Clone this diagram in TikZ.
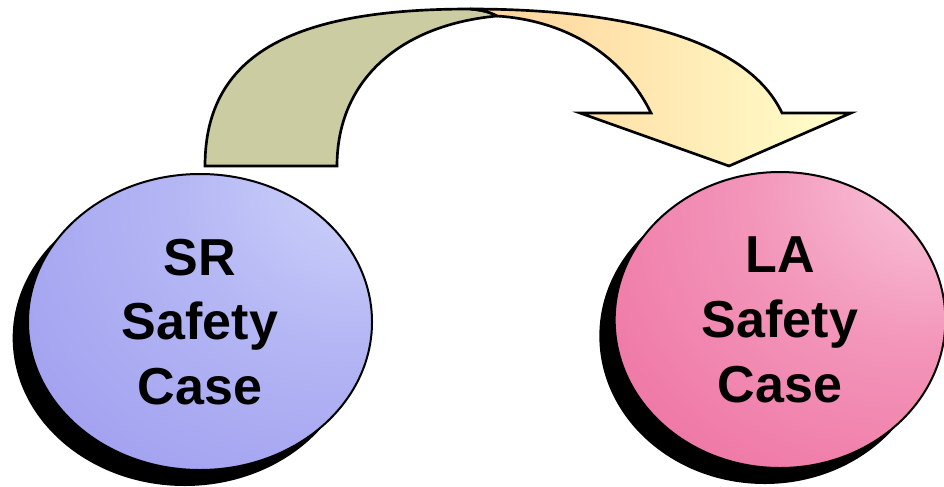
\documentclass[tikz,border=0pt]{standalone}
\usepackage{fontspec}
\setmainfont{Liberation Sans}
\usetikzlibrary{shapes.geometric,shadows}

\definecolor{bandolive}{RGB}{204,204,163}
\definecolor{peach}{RGB}{255,210,152}
\definecolor{paleyel}{RGB}{255,255,204}
\definecolor{srhi}{RGB}{210,216,251}
\definecolor{srmid}{RGB}{180,182,244}
\definecolor{srlo}{RGB}{152,148,238}
\definecolor{lahi}{RGB}{250,208,224}
\definecolor{lamid}{RGB}{243,150,186}
\definecolor{lalo}{RGB}{236,100,152}

\pgfdeclareradialshading{srshade}{\pgfpoint{28bp}{28bp}}{color(0bp)=(srhi); color(25bp)=(srmid); color(62bp)=(srlo); color(100bp)=(srlo)}
\pgfdeclareradialshading{lashade}{\pgfpoint{28bp}{28bp}}{color(0bp)=(lahi); color(25bp)=(lamid); color(62bp)=(lalo); color(100bp)=(lalo)}

\tikzset{
	casebox/.style={ellipse, draw=black, line width=1.5pt, shade, align=center, inner sep=0pt,
		font=\bfseries\fontsize{39pt}{48.5pt}\selectfont,
		general shadow={fill=black, shadow xshift=-11.5pt, shadow yshift=-12pt}},
	band/.style={draw=black, line width=2pt, line join=miter},
}

\begin{document}
\begin{tikzpicture}[x=0.75pt, y=-0.75pt]
		%%%%% START %%%%%
		\useasboundingbox (0, 0) rectangle (944, 486);
		
		% back of the bent arrow
		\draw[band, fill=bandolive] (205, 166) .. controls (205, 50) and (300, 9) .. (470, 9)
			.. controls (482, 10) and (490, 12) .. (497, 16)
			.. controls (400, 25) and (337, 80) .. (337, 166) -- cycle;
		
		% front of the bent arrow with its head
		\draw[band, left color=peach, right color=paleyel] (470, 9) .. controls (640, 9) and (750, 45) .. (782, 113)
			-- (851, 113) -- (729, 166) -- (580, 113) -- (651, 113)
			.. controls (620, 50) and (560, 20) .. (497, 16)
			.. controls (490, 12) and (482, 10) .. (470, 9) -- cycle;
		
		% the two safety cases
		\node[casebox, shading=srshade, minimum width=258pt, minimum height=222pt] (sr) at (200, 322) {SR\\Safety\\Case};
		\node[casebox, shading=lashade, minimum width=248pt, minimum height=222pt] (la) at (780, 320) {LA\\Safety\\Case};
		
		%%%%% END %%%%%
	\end{tikzpicture}
\end{document}
